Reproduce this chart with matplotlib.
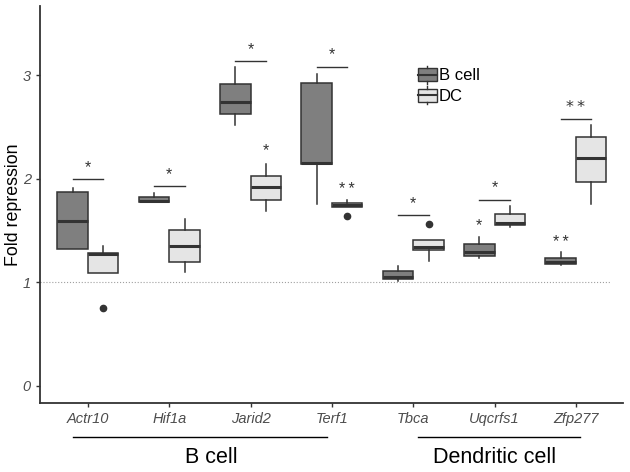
import matplotlib
matplotlib.use("Agg")
from matplotlib import pyplot as plt
from matplotlib.patches import Patch, Rectangle
from matplotlib.lines import Line2D
from matplotlib.legend_handler import HandlerBase

plt.rcParams['font.family'] = ['Liberation Sans', 'DejaVu Sans']

# Genes on the x axis
genes = ['Actr10', 'Hif1a', 'Jarid2', 'Terf1', 'Tbca', 'Uqcrfs1', 'Zfp277']

# B cell box stats
bcell_lo = [1.32, 1.775, 2.52, 1.76, 1.015, 1.237, 1.166]
bcell_q1 = [1.32, 1.775, 2.63, 2.14, 1.03, 1.256, 1.18]
bcell_med = [1.59, 1.785, 2.745, 2.15, 1.05, 1.289, 1.20]
bcell_q3 = [1.875, 1.82, 2.915, 2.93, 1.11, 1.366, 1.234]
bcell_hi = [1.91, 1.86, 3.08, 3.01, 1.157, 1.44, 1.295]
bcell_out = [[], [], [], [], [], [], []]

# DC box stats
dc_lo = [1.086, 1.10, 1.69, 1.724, 1.208, 1.536, 1.755]
dc_q1 = [1.086, 1.195, 1.80, 1.724, 1.31, 1.553, 1.97]
dc_med = [1.272, 1.35, 1.92, 1.749, 1.343, 1.57, 2.197]
dc_q3 = [1.285, 1.51, 2.03, 1.768, 1.408, 1.656, 2.40]
dc_hi = [1.35, 1.61, 2.14, 1.794, 1.408, 1.736, 2.525]
dc_out = [[0.754], [], [], [1.64], [1.56], [], []]

# significance brackets between B cell and DC boxes
bracket_y = [1.994, 1.93, 3.14, 3.086, 1.65, 1.80, 2.58]
bracket_lab = ['*', '*', '*', '*', '*', '*', '**']

# single stars above one box: (gene index, group, y, label)
single_stars = [(2, 'DC', 2.27, '*'), (3, 'DC', 1.90, '**'),
                (5, 'B', 1.55, '*'), (6, 'B', 1.385, '**')]

b_col = '#7f7f7f'
dc_col = '#e5e5e5'
edge = '#333333'
off = 0.1875
bw = 0.375


def make_stats(lo, q1, med, q3, hi, out):
    return [dict(whislo=a, q1=b, med=c, q3=d, whishi=e, fliers=f)
            for a, b, c, d, e, f in zip(lo, q1, med, q3, hi, out)]


def star_text(lab):
    # ggplot-style double star has a small gap
    return lab.replace('**', '*\u2009*')


fig = plt.figure(figsize=(6.3, 4.72), dpi=100)
ax = fig.add_axes([0.0635, 0.1455, 0.9255, 0.8415])

pos = list(range(1, len(genes) + 1))
for stats, shift, col in [(make_stats(bcell_lo, bcell_q1, bcell_med, bcell_q3, bcell_hi, bcell_out), -off, b_col),
                          (make_stats(dc_lo, dc_q1, dc_med, dc_q3, dc_hi, dc_out), off, dc_col)]:
    ax.bxp(stats, positions=[p + shift for p in pos], widths=bw, patch_artist=True,
           showcaps=False,
           boxprops=dict(facecolor=col, edgecolor=edge, linewidth=1.1),
           medianprops=dict(color=edge, linewidth=2.2),
           whiskerprops=dict(color=edge, linewidth=1.1),
           flierprops=dict(marker='o', markerfacecolor=edge, markeredgecolor=edge, markersize=4.5))

ax.set_xlim(0.41, 7.58)
ax.set_ylim(-0.17, 3.67)
ax.hlines(1, 0.41, 7.42, colors='#a0a0a0', linestyles=':', linewidth=0.8, zorder=0)

# brackets
for p, y, lab in zip(pos, bracket_y, bracket_lab):
    ax.plot([p - off, p + off], [y, y], color=edge, linewidth=1.0)
    ax.text(p, y + 0.04, star_text(lab), ha='center', va='bottom', fontsize=11.5,
            color=edge, family=['DejaVu Sans'] if '**' in lab else None)

for gi, grp, y, lab in single_stars:
    x = pos[gi] + (off if grp == 'DC' else -off)
    ax.text(x, y, star_text(lab), ha='center', va='center', fontsize=11.5, color=edge,
            family=['Liberation Sans', 'DejaVu Sans'])

# axes styling
for s in ['top', 'right']:
    ax.spines[s].set_visible(False)
for s in ['left', 'bottom']:
    ax.spines[s].set_color('#333333')
    ax.spines[s].set_linewidth(1.3)
ax.set_xticks(pos)
ax.set_xticklabels(genes, fontstyle='italic')
ax.set_yticks([0, 1, 2, 3])
ax.set_yticklabels(['0', '1', '2', '3'], fontstyle='italic')
ax.tick_params(axis='both', colors='#333333', labelcolor='#4d4d4d', labelsize=10.5,
               length=3, width=1)
ax.set_ylabel('Fold repression', fontsize=12.8, color='black')
ax.yaxis.set_label_coords(-0.031, 0.5)

# group lines and labels under the axis
trans = ax.get_xaxis_transform()
for x0, x1, lab, xc in [(0.815, 3.94, 'B cell', 2.52), (5.06, 7.05, 'Dendritic cell', 6.0)]:
    ax.plot([x0, x1], [-0.084, -0.084], color='black', linewidth=1.0,
            transform=trans, clip_on=False)
    ax.text(xc, -0.137, lab, ha='center', va='center', fontsize=15.5,
            transform=trans, clip_on=False)


class BoxHandler(HandlerBase):
    def create_artists(self, legend, orig_handle, xdescent, ydescent,
                       width, height, fontsize, trans):
        x0, y0 = -xdescent, -ydescent
        cx = x0 + width / 2
        rect = Rectangle((x0, y0 + height * 0.12), width, height * 0.76,
                         facecolor=orig_handle.get_facecolor(), edgecolor=edge,
                         linewidth=1, transform=trans)
        med = Line2D([x0, x0 + width], [y0 + height / 2] * 2, color=edge,
                     linewidth=1.5, transform=trans)
        w1 = Line2D([cx, cx], [y0 + height * 0.88, y0 + height * 1.05], color=edge,
                    linewidth=1, transform=trans)
        w2 = Line2D([cx, cx], [y0 - height * 0.05, y0 + height * 0.12], color=edge,
                    linewidth=1, transform=trans)
        return [rect, med, w1, w2]


handles = [Patch(facecolor=b_col), Patch(facecolor=dc_col)]
ax.legend(handles, ['B cell', 'DC'], handler_map={Patch: BoxHandler()},
          loc='upper left', bbox_to_anchor=(0.648, 0.848), frameon=False,
          fontsize=12, handlelength=1.15, handleheight=1.15, handletextpad=0.1,
          labelspacing=0.22, borderpad=0, borderaxespad=0)

fig.savefig('out.png', dpi=100)
